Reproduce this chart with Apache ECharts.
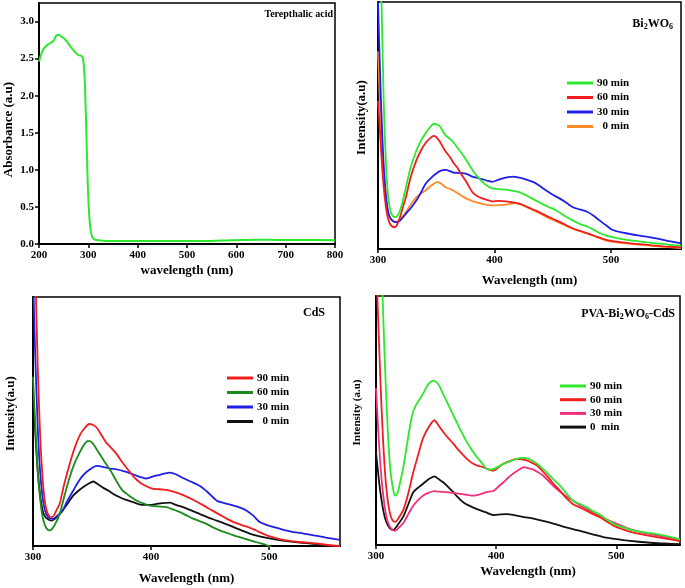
<!DOCTYPE html>
<html><head><meta charset="utf-8">
<script src="https://cdn.jsdelivr.net/npm/echarts@6/dist/echarts.min.js"></script>
<style>html,body{margin:0;padding:0;background:#fff}#c{width:685px;height:588px}</style>
</head><body><div id="c"></div>
<script>
// ---------- Panel 1: Terepthalic acid absorbance ----------
const tpaXTicks = [200, 300, 400, 500, 600, 700, 800];
const tpaYTicks = [0.0, 0.5, 1.0, 1.5, 2.0, 2.5, 3.0];
const tpa = [[200,2.46],[204,2.55],[208,2.62],[213,2.66],[218,2.69],[223,2.71],[228,2.73],[232,2.77],[235,2.81],[238,2.82],[241,2.82],[245,2.8],[249,2.78],[254,2.75],[259,2.71],[264,2.66],[269,2.62],[274,2.58],[279,2.55],[284,2.54],[287,2.53],[289,2.5],[291,2.4],[293,2.17],[294.5,1.85],[296,1.5],[297.5,1.13],[299,0.77],[300.5,0.55],[302,0.37],[304,0.22],[306,0.14],[309,0.08],[313,0.06],[320,0.05],[330,0.045],[350,0.04],[400,0.04],[450,0.04],[500,0.04],[550,0.042],[580,0.048],[600,0.052],[640,0.058],[660,0.058],[680,0.055],[700,0.054],[750,0.053],[800,0.052]];

// ---------- Legend labels ----------
const legendLabels = ['90 min', '60 min', '30 min', '  0 min'];
const legendLabelsPva = ['90 min', '60 min', '30 min', '0  min'];
const wlTicks = [300, 400, 500];

// ---------- Panel 2: Bi2WO6 ----------
const bwo90 = [[301,130],[303,100],[305,58],[307,33],[309,20],[311,15],[313,13.2],[315,12.9],[318,14.5],[321,19],[324,25],[328,33],[333,40],[337,44],[341,47],[345,49.5],[348,50.7],[351,50.3],[353,49.7],[356,47.5],[358,46],[362,44.5],[365,43],[369,40.5],[373,38],[377,35],[381,32],[385,29.5],[390,27],[394,25.5],[398,24.5],[404,24.2],[410,24],[416,23.5],[421,23],[426,22],[430,21],[434,20],[438,19],[445,17.3],[453,15.6],[460,13.5],[467,11.6],[474,10],[481,8.8],[488,7],[496,5.4],[503,4.6],[510,4],[517,3.5],[524,3.1],[531,2.7],[539,2.3],[549,1.8],[560,1.4]];
const bwo60 = [[300,60],[302,45],[304,30],[306,20],[308,13.5],[310,10.5],[312,9.2],[314,8.8],[316,9.5],[319,13],[322,18],[324,21],[328,29],[333,36],[337,40],[341,43],[345,45],[348,45.8],[350,45.3],[353,43.5],[356,41],[358,39.5],[362,37],[365,34.7],[368,33],[371,30.6],[376,27],[381,23],[385,21.5],[390,20.4],[394,19.8],[398,19.3],[404,19.5],[410,19.3],[416,18.9],[421,18.4],[426,17.5],[432,16.2],[438,15],[445,13.3],[453,11.6],[460,10],[467,8.4],[474,7.2],[481,6.1],[488,4.9],[496,3.7],[503,3.1],[510,2.7],[517,2.3],[524,2],[535,1.5],[545,1.1],[560,0.7]];
const bwo30 = [[300,100],[302,68],[304,42],[306,26],[308,17],[310,13],[313,11.2],[316,10.9],[319,11.5],[324,14.3],[328,16.5],[333,19.7],[337,23],[341,26.5],[346,29],[350,30.6],[354,31.7],[358,32],[362,31.5],[365,30.9],[370,30.8],[374,30.6],[378,30],[381,29.3],[386,28.7],[390,28.2],[394,27.6],[398,27.2],[403,28],[407,28.6],[412,29.1],[416,29.3],[420,29],[424,28.6],[428,28],[433,27.2],[438,25.8],[444,23.8],[450,22],[456,20.4],[462,18.6],[467,17],[473,16],[479,15.2],[485,13.5],[490,11.6],[496,9.5],[501,7.8],[508,6.8],[516,6.1],[523,5.5],[530,5],[536,4.5],[541,4.1],[550,3.2],[560,2.3]];
const bwo0 = [[300,80],[302,55],[304,36],[306,24],[308,16.5],[310,13],[313,11.3],[315,10.9],[319,12],[324,15],[328,18],[333,21],[337,22.5],[341,23.8],[346,25.8],[351,27.2],[354,26.5],[358,25],[362,24.3],[367,23],[371,21.8],[376,20.4],[381,19.4],[387,18.6],[392,18],[398,17.7],[404,17.8],[410,18],[418,18.6],[422,18.2],[427,17],[432,16],[438,14.6],[445,12.9],[453,11.2],[460,9.7],[467,8.2],[474,7.1],[481,6.1],[488,4.8],[496,3.4],[503,2.8],[510,2.4],[524,1.8],[540,1.1],[560,0.4]];

// ---------- Panel 3: CdS ----------
const cds90 = [[301.5,120],[302.5,100],[304,72],[306,45],[308,28],[310,18],[312,13.5],[314,11.8],[316,11.6],[318,12.5],[320,14.5],[322.6,17],[326,24],[331,32.8],[335,39],[340,44.8],[344,47.5],[347.5,49],[351,48.6],[354,47.5],[358,44.5],[362,41.5],[366,39.5],[371,36.8],[375,34],[379,31.5],[385,28],[390.5,25.5],[396,24],[402,22.9],[407,22.8],[413,22.5],[419,21.8],[424.5,20.9],[430,19.8],[436,18.5],[441,17.2],[447,15.6],[452,14.2],[458,12.6],[464,11],[470,9.6],[477,8.4],[484,7.3],[491,5.8],[498,4.3],[505,3.3],[512,2.5],[519,2],[526,1.6],[540,1],[550,0.4],[560,0]];
const cds60 = [[300,68],[302,48],[304,30],[306,19],[308,12],[310,8.5],[312,6.8],[314,6.3],[316,6.8],[319,9],[322.6,12.9],[326,19],[331,27.5],[335,33],[340,38],[343,40.5],[346.7,42.2],[350,41.5],[354,38.8],[358,35.8],[362,32.8],[366,30],[369,27.5],[372,25],[376,22.2],[382,20],[388,18.2],[394,17],[399,16.2],[406,15.9],[413,15.6],[419,14.6],[424.5,13.6],[430,12.3],[436,10.9],[441,10],[447,8.9],[452,7.6],[458,6.3],[464,5.3],[470,4.3],[477,3.3],[484,2.3],[491,1.3],[498,0.3],[505,-1],[560,-5]];
const cds30 = [[300.5,100],[302,75],[304,48],[306,30],[308,20],[310,14.5],[313,11.5],[317,10.9],[321,12.3],[325,14.2],[329,18],[334,22.2],[338,25.5],[342,28.2],[348,30.7],[354,32.2],[360,31.7],[365,31.1],[370,30.9],[376,30.2],[382,29.3],[388,28.2],[392,27.6],[396,27.1],[402,28],[407.5,28.6],[412,29.2],[416,29.5],[421,28.8],[427,27.3],[434,25.8],[441,24.2],[448,21.6],[455.6,18.2],[462,17.2],[470,16.2],[476,15.3],[481,14.2],[487,12],[492,9.6],[499,8.3],[506.5,7.3],[513,6.4],[520.6,5.6],[529,5],[537.6,4.3],[548,3.4],[560,2.5]];
const cds0 = [[300,62],[302,45],[304,30],[306,20.5],[308,14.5],[310,12],[313,10.6],[315.6,10.2],[320,11.5],[325,14.2],[330,17.5],[334,20.2],[338,22],[342,23.5],[347,25],[351,25.9],[355,24.8],[359,23.5],[364,22.2],[368,20.9],[373,19.7],[379,18.5],[386,17.4],[393,16.5],[399,16.5],[404.7,16.9],[410,17.2],[416,17.4],[421,16.5],[427,15.6],[434,14.3],[441,12.9],[448,11.5],[455.6,10.2],[463,8.9],[470,7.6],[477,6.2],[484,4.9],[491,4],[498,3.3],[506,2.6],[515,2],[526,1.4],[537.6,0.9],[546,0.4],[555,0]];

// ---------- Panel 4: PVA-Bi2WO6-CdS ----------
const pva90 = [[303,140],[305.5,100],[307,78],[308.5,60],[310,44],[312,30],[314,23],[316,19.8],[318,21],[320,25],[323,32],[326,41],[330,52],[333,56],[337,59],[340,61.5],[343,64.3],[346,65.7],[348,66],[351,65],[353,63.6],[356,60.5],[359,57.5],[363,53.5],[367,49.5],[371,45.5],[375.5,41.4],[380,38],[384,35.3],[388,33],[392,30.6],[395,30.3],[398,30.6],[402,31.5],[406,32.6],[411,33.5],[417,34.6],[421,35],[425.5,34.9],[430,33.9],[434,32.6],[438,31],[442,29.2],[447,26.7],[453,23.9],[458,21],[464,17.8],[470,16.4],[475.5,15.1],[481,13.5],[487,12],[492,10.2],[498,8.4],[505,7.2],[511.7,6.1],[518,5.5],[525.5,5],[532,4.5],[539,3.9],[546,3.1],[553,2.3]];
const pva60 = [[300,115],[302,88],[304,62],[306,41],[308,26],[310,17],[312,12],[314,9.7],[316,9.3],[319,11],[323,14.4],[327,21],[331,29.2],[335,36],[339,42.7],[344,47.5],[348.6,50.1],[352,48],[356,45.4],[360,43],[364.4,40.7],[368,38.5],[372.8,36],[377,34],[381,32.6],[385,31.8],[389,31.3],[393,30.5],[398,29.9],[402,31.2],[406,32.6],[411,33.6],[417,34.6],[421,34.4],[425.5,34],[430,33],[434,31.9],[438,30],[442,27.9],[447,25],[453,21.8],[458,19],[464,16.4],[470,15],[475.5,13.7],[481,12.3],[487,11],[492,9.4],[498,7.7],[505,6.4],[511.7,5.3],[518,4.6],[525.5,3.9],[535,3.1],[545,2.3],[553,1.6]];
const pva30 = [[300,63],[302,45],[304,30],[306,20],[308,13],[310,9],[313,6.3],[316,5.7],[319,7],[323,9],[327,12.5],[331,15.8],[335,18],[339,19.8],[344,21],[348.6,21.6],[353,21.4],[359,21.2],[364,20.9],[370,20.5],[376,20.1],[381,19.8],[387,20.4],[392,21.2],[398,21.8],[402,23.5],[406,25.2],[410,27],[414,28.6],[419,30.2],[423,31.3],[427,30.8],[431,30.3],[435,29.2],[439,27.9],[445,25],[450.5,22.5],[457,20],[464,17.8],[470,16],[475.5,14.4],[481,12.9],[487,11.5],[492,10.2],[498,9],[505,7.6],[511.7,6.3],[518,5.5],[525.5,4.7],[540,3.3],[553,2]];
const pva0 = [[300,37.3],[302,28],[304,20],[306,14],[308,10],[310,7.8],[312,6.5],[314.4,6.1],[318,8],[323,11.7],[327,16.5],[331,21.2],[335,23],[339,24.5],[344,26.5],[348.6,27.6],[352,26.5],[356,25.2],[360,23.3],[364.4,21.2],[368,19.2],[372.8,17.1],[378,15.7],[384,14.4],[391,13.2],[398,12],[404,12.3],[409,12.4],[415,12],[420,11.5],[425,11.1],[431,10.6],[438,9.8],[445,9],[452,8],[459,7],[466,6.1],[472.8,5.3],[481,4.2],[489,3.2],[497,2.6],[506,2],[517,1.4],[528,0.9],[540,0.6],[553,0.3]];

// ---------- rendering ----------
const FONT = 'Liberation Serif';
const chart = echarts.init(document.getElementById('c'), null, {renderer: 'canvas'});

const grids = [
  {left: 39, top: 3, width: 296, height: 241},
  {left: 378, top: 2, width: 303, height: 247},
  {left: 33, top: 297, width: 307, height: 249},
  {left: 376, top: 296, width: 304, height: 249}
];
const xRanges = [[200, 800], [300, 560], [300, 560], [300, 553]];

function baseLabel(size) {
  return {color: '#000', fontFamily: FONT, fontWeight: 'bold', fontSize: size};
}

const xNameGaps = [20, 25, 26, 20];
const xAxes = grids.map((g, i) => ({
  gridIndex: i, type: 'value', min: xRanges[i][0], max: xRanges[i][1], interval: 100,
  name: i === 0 ? 'wavelength (nm)' : 'Wavelength (nm)',
  nameLocation: 'middle', nameGap: xNameGaps[i],
  nameTextStyle: baseLabel(13),
  axisLine: {onZero: false, lineStyle: {color: '#000', width: 2}},
  axisTick: {show: true, inside: false, length: 4, lineStyle: {color: '#000', width: 1.5}},
  axisLabel: Object.assign(baseLabel(11), {margin: 6, showMaxLabel: i === 0, showMinLabel: true,
    formatter: v => (i === 0 ? tpaXTicks : wlTicks).includes(v) ? String(v) : ''}),
  splitLine: {show: false}
}));

const yNames = ['Absorbance (a.u)', 'Intensity(a.u)', 'Intensity(a.u)', 'Intensity (a.u)'];
const yNameGaps = [24, 10, 16, 13];
const yNamePads = [[0, 12, 0, 0], [0, 0, 0, 16], [0, 0, 0, 16], [0, 0, 0, 16]];
const yAxes = grids.map((g, i) => ({
  gridIndex: i, type: 'value',
  min: 0, max: i === 0 ? 3.25 : 100, interval: i === 0 ? 0.5 : 50,
  name: yNames[i], nameLocation: 'middle', nameRotate: 90,
  nameGap: yNameGaps[i],
  nameTextStyle: Object.assign(baseLabel(i === 3 ? 11 : 13), {padding: yNamePads[i]}),
  axisLine: {onZero: false, lineStyle: {color: '#000', width: 2}},
  axisTick: {show: i === 0, length: 4, lineStyle: {color: '#000', width: 1.5}},
  axisLabel: Object.assign(baseLabel(11), {show: i === 0, margin: 5, showMaxLabel: false,
    formatter: v => tpaYTicks.includes(v) ? v.toFixed(1) : ''}),
  splitLine: {show: false}
}));

function line(name, data, color, gi, width) {
  return {
    name, type: 'line', xAxisIndex: gi, yAxisIndex: gi, data,
    showSymbol: false, symbol: 'none', smooth: 0.25, clip: true,
    lineStyle: {color, width: width || 1.8}, itemStyle: {color},
    animation: false
  };
}

const C = {
  green: '#2de82d', red: '#f01e1e', blue: '#1f1fe6', orange: '#ff8a2a',
  dgreen: '#1c8a1c', black: '#111111', pink: '#f0307a'
};

const series = [
  line('tpa', tpa, C.green, 0, 2),
  line('b0', bwo0, C.orange, 1), line('b30', bwo30, C.blue, 1), line('b60', bwo60, C.red, 1), line('b90', bwo90, C.green, 1),
  line('c0', cds0, C.black, 2), line('c30', cds30, C.blue, 2), line('c60', cds60, C.dgreen, 2), line('c90', cds90, C.red, 2),
  line('p0', pva0, C.black, 3), line('p30', pva30, C.pink, 3), line('p60', pva60, C.red, 3), line('p90', pva90, C.green, 3)
];

const labelMap = {
  b90: legendLabels[0], b60: legendLabels[1], b30: legendLabels[2], b0: legendLabels[3],
  c90: legendLabels[0], c60: legendLabels[1], c30: legendLabels[2], c0: legendLabels[3],
  p90: legendLabelsPva[0], p60: legendLabelsPva[1], p30: legendLabelsPva[2], p0: legendLabelsPva[3]
};

function legend(data, left, top, gap) {
  return {
    data, left, top, orient: 'vertical', icon: 'rect', itemWidth: 26, itemHeight: 3,
    itemGap: gap, padding: 0, selectedMode: false,
    formatter: n => labelMap[n],
    textStyle: Object.assign(baseLabel(11), {lineHeight: 12, padding: [0, 0, 0, -1]})
  };
}

const sub = {fontSize: 8, fontFamily: FONT, fontWeight: 'bold', color: '#000', verticalAlign: 'bottom', padding: [6, 0, 0, 0]};
function titleStyle(size) {
  return {
    color: '#000', fontFamily: FONT, fontWeight: 'bold', fontSize: size,
    rich: {n: {fontSize: size, fontFamily: FONT, fontWeight: 'bold', color: '#000'}, s: sub}
  };
}

const option = {
  backgroundColor: '#fff',
  animation: false,
  grid: grids.map(g => Object.assign({show: true, borderColor: '#000', borderWidth: 1.5, backgroundColor: 'transparent'}, g)),
  xAxis: xAxes,
  yAxis: yAxes,
  title: [
    {text: 'Terepthalic acid', right: 352, top: 9, padding: 0, textStyle: titleStyle(10)},
    {text: '{n|Bi}{s|2}{n|WO}{s|6}', right: 12, top: 17, padding: 0, textStyle: titleStyle(12)},
    {text: 'CdS', right: 360, top: 307, padding: 0, textStyle: titleStyle(12)},
    {text: '{n|PVA-Bi}{s|2}{n|WO}{s|6}{n|-CdS}', right: 10, top: 307, padding: 0, textStyle: titleStyle(12)}
  ],
  legend: [
    legend(['b90', 'b60', 'b30', 'b0'], 567, 77, 2.5),
    legend(['c90', 'c60', 'c30', 'c0'], 227, 372, 2.5),
    legend(['p90', 'p60', 'p30', 'p0'], 560, 380, 1.7)
  ],
  series
};
chart.setOption(option);
</script></body></html>
